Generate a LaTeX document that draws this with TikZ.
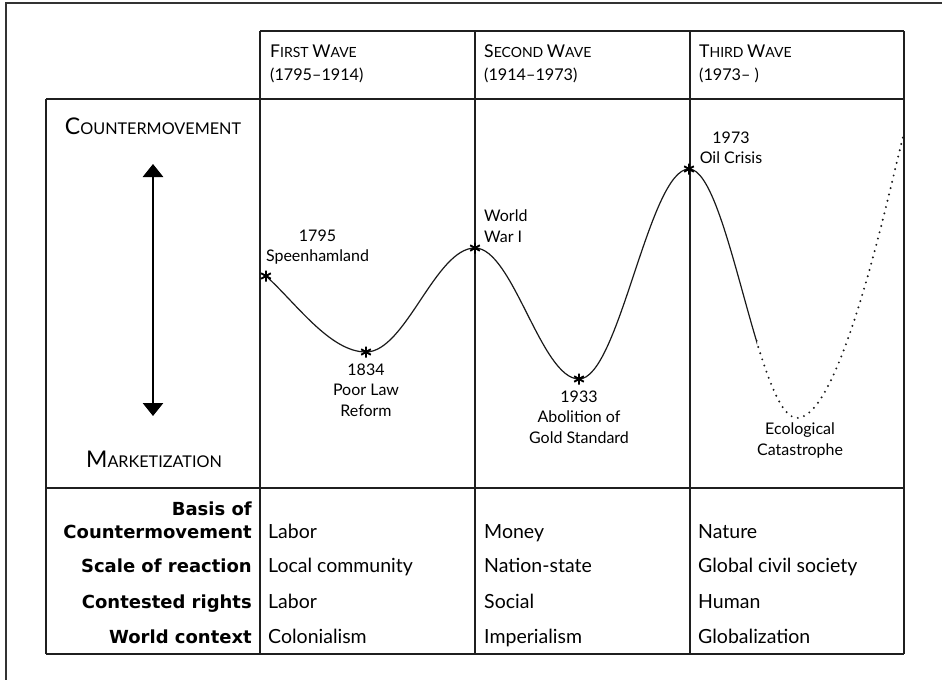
\documentclass[tikz,border=0pt]{standalone}
\usepackage{fontspec}
\setmainfont{Lato}
\newfontfamily\labfont{DejaVu Sans}
\usetikzlibrary{arrows.meta}
\newcommand\hbig[1]{{\fontsize{17.6}{23}\selectfont#1}}
\newcommand\lbig[1]{{\fontsize{23}{23}\selectfont#1}}
\tikzset{
  gridline/.style={line width=2pt, draw=black!88},
  frameline/.style={line width=1.4pt, draw=black!80},
  wave/.style={line width=1.2pt, draw=black!90},
  wavedots/.style={line width=2.2pt, dash pattern=on 0pt off 6.5pt, line cap=round, draw=black!90},
  hdr/.style={anchor=north west, inner sep=0pt, align=left, font=\fontsize{14}{23}\selectfont},
  sidecap/.style={anchor=base, inner sep=0pt, font=\fontsize{16.2}{20}\selectfont},
  evlab/.style={inner sep=0pt, font=\fontsize{16}{20.5}\selectfont},
  rowlab/.style={inner sep=0pt, font=\labfont\bfseries\fontsize{18}{23}\selectfont},
  cell/.style={anchor=base west, inner sep=0pt, font=\fontsize{19.5}{23}\selectfont},
  bigarrow/.style={line width=2.8pt, {Triangle[width=20pt,length=13pt]}-{Triangle[width=20pt,length=13pt]}},
  asterisk/.pic={\draw[line width=1.9pt] (0,-5.5)--(0,5.5) (-4.8,-2.75)--(4.8,2.75) (-4.8,2.75)--(4.8,-2.75);}
}
\begin{document}
\begin{tikzpicture}[x=1pt,y=-1pt]
\useasboundingbox (0,0) rectangle (942,680);
% outer frame (cropped)
\draw[frameline] (942,3) -- (6,3) -- (6,680);
% table grid
\draw[gridline] (260,31) -- (904,31);
\draw[gridline] (46,99) -- (904,99);
\draw[gridline] (46,488) -- (904,488);
\draw[gridline] (46,654) -- (904,654);
\draw[gridline] (46,99) -- (46,654);
\draw[gridline] (260,31) -- (260,654);
\draw[gridline] (475,31) -- (475,654);
\draw[gridline] (689.5,31) -- (689.5,654);
\draw[gridline] (904,31) -- (904,654);
% headers
\node[hdr] (h1) at (270,44.4) {\hbig{F}IRST \hbig{W}AVE\\{\fontsize{16.2}{23}\selectfont (1795--1914)}};
\node[hdr] (h2) at (484,44.4) {\hbig{S}ECOND \hbig{W}AVE\\{\fontsize{16.2}{23}\selectfont (1914--1973)}};
\node[hdr] (h3) at (699,44.4) {\hbig{T}HIRD \hbig{W}AVE\\{\fontsize{16.2}{23}\selectfont (1973-- )}};
% left axis
\node[sidecap] (cm) at (153,134) {\lbig{C}OUNTERMOVEMENT};
\node[sidecap] (mk) at (154,467) {\lbig{M}ARKETIZATION};
\coordinate (atop) at (153,164);
\coordinate (abot) at (153,416);
\draw[bigarrow] (abot) -- (atop);
% wave points
\coordinate (p1795) at (266,276);
\coordinate (p1834) at (366,352);
\coordinate (pWWI) at (475,248);
\coordinate (p1933) at (579,379);
\coordinate (p1973) at (689,169);
\coordinate (pEco) at (797,418);
\coordinate (pEnd) at (903,137);
\draw[wave] (p1795) .. controls +(30,27) and +(-36,0) .. (p1834)
  .. controls +(39.6,0) and +(-39.6,0) .. (pWWI)
  .. controls +(37.8,0) and +(-37.8,0) .. (p1933)
  .. controls +(40,0) and +(-40,0) .. (p1973);
\begin{scope}
  \clip (689,100) rectangle (757,487);
  \draw[wave] (p1973) .. controls +(39,0) and +(-39,0) .. (pEco);
\end{scope}
\begin{scope}
  \clip (757,100) rectangle (904,487);
  \draw[wavedots] (p1973) .. controls +(39,0) and +(-39,0) .. (pEco)
    .. controls +(45,0) and +(-12,45) .. (pEnd);
\end{scope}
\pic at (p1795) {asterisk};
\pic at (p1834) {asterisk};
\pic at (pWWI) {asterisk};
\pic at (p1933) {asterisk};
\pic at (p1973) {asterisk};
% event labels
\node[evlab, anchor=north, align=center] (l1795) at (317.5,229.5) {1795\\Speenhamland};
\node[evlab, anchor=north, align=center] (l1834) at (366,363.5) {1834\\Poor Law\\Reform};
\node[evlab, anchor=north west, align=left] (lWWI) at (484,210) {World\\War I};
\node[evlab, anchor=north, align=center] (l1933) at (579,390.5) {1933\\Abolition of\\Gold Standard};
\node[evlab, anchor=north, align=center] (l1973) at (731,131.5) {1973\\Oil Crisis};
\node[evlab, anchor=north, align=center] (lEco) at (800,423) {Ecological\\Catastrophe};
% row labels
\node[rowlab, anchor=north east, align=right] (r1) at (252,501.5) {Basis of\\Countermovement};
\node[rowlab, anchor=base east] (r2) at (252,572) {Scale of reaction};
\node[rowlab, anchor=base east] (r3) at (252,608) {Contested rights};
\node[rowlab, anchor=base east] (r4) at (252,643) {World context};
% cells
\node[cell] (c11) at (268,538) {Labor};
\node[cell] (c12) at (484,538) {Money};
\node[cell] (c13) at (698,538) {Nature};
\node[cell] (c21) at (268,572) {Local community};
\node[cell] (c22) at (484,572) {Nation-state};
\node[cell] (c23) at (698,572) {Global civil society};
\node[cell] (c31) at (268,608) {Labor};
\node[cell] (c32) at (484,608) {Social};
\node[cell] (c33) at (698,608) {Human};
\node[cell] (c41) at (268,643) {Colonialism};
\node[cell] (c42) at (484,643) {Imperialism};
\node[cell] (c43) at (698,643) {Globalization};
\end{tikzpicture}
\end{document}
